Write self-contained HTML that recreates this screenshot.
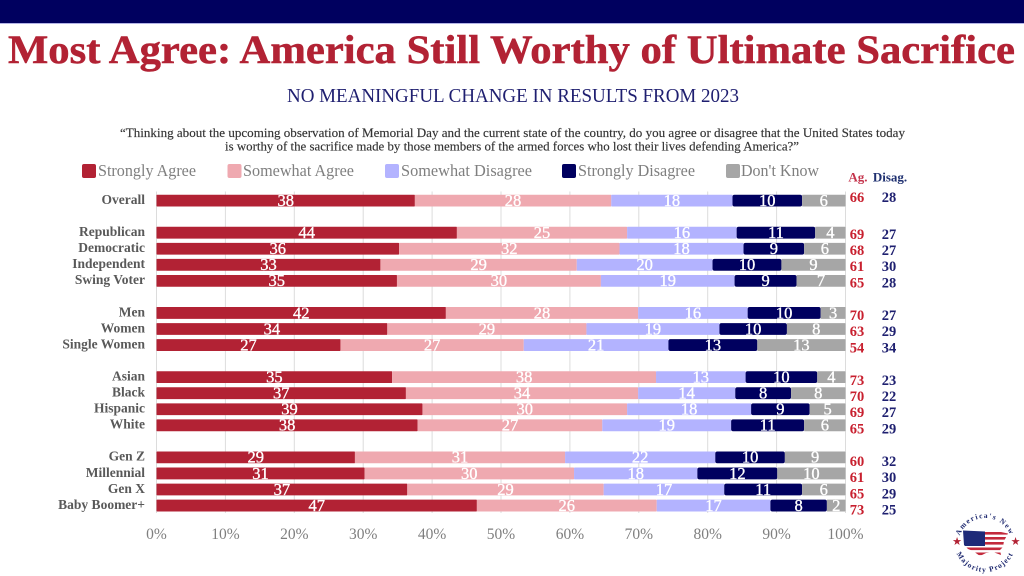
<!DOCTYPE html>
<html lang="en">
<head>
<meta charset="utf-8">
<title>Most Agree: America Still Worthy of Ultimate Sacrifice</title>
<style>
html,body{margin:0;padding:0;background:#fff;}
body{width:1024px;height:576px;overflow:hidden;}
svg{display:block;font-family:"Liberation Serif",serif;}
</style>
</head>
<body>
<svg id="chart" xmlns="http://www.w3.org/2000/svg" width="1024" height="576" viewBox="0 0 1024 576">
  <rect x="0" y="0" width="1024" height="576" fill="#ffffff"/>
  <rect x="0" y="0" width="1024" height="23" fill="#00005f"/>
  <rect x="0" y="23" width="1024" height="1" fill="#b3b3e6"/>
  <text x="8" y="63" font-size="40" font-weight="700" fill="#b22234" stroke="#b22234" stroke-width="0.5" textLength="1007" lengthAdjust="spacingAndGlyphs">Most Agree: America Still Worthy of Ultimate Sacrifice</text>
  <text x="287" y="102" font-size="20.5" fill="#1f1f70" textLength="452" lengthAdjust="spacingAndGlyphs">NO MEANINGFUL CHANGE IN RESULTS FROM 2023</text>
  <text x="120" y="137" font-size="12.5" fill="#333333" stroke="#333333" stroke-width="0.15" textLength="785" lengthAdjust="spacingAndGlyphs">“Thinking about the upcoming observation of Memorial Day and the current state of the country, do you agree or disagree that the United States today</text>
  <text x="225" y="150.5" font-size="12.5" fill="#333333" stroke="#333333" stroke-width="0.15" textLength="574" lengthAdjust="spacingAndGlyphs">is worthy of the sacrifice made by those members of the armed forces who lost their lives defending America?”</text>

  <g>
    <g>
      <rect x="82" y="164" width="14" height="14" rx="2" fill="#b22234"/>
      <text x="98" y="176" font-size="16.5" fill="#7f7f7f" textLength="98" lengthAdjust="spacingAndGlyphs">Strongly Agree</text>
    </g>
    <g>
      <rect x="227.5" y="164" width="14" height="14" rx="2" fill="#efa9b0"/>
      <text x="243" y="176" font-size="16.5" fill="#7f7f7f" textLength="111" lengthAdjust="spacingAndGlyphs">Somewhat Agree</text>
    </g>
    <g>
      <rect x="385" y="164" width="14" height="14" rx="2" fill="#b3b3ff"/>
      <text x="401" y="176" font-size="16.5" fill="#7f7f7f" textLength="131" lengthAdjust="spacingAndGlyphs">Somewhat Disagree</text>
    </g>
    <g>
      <rect x="562" y="164" width="14" height="14" rx="2" fill="#00005f"/>
      <text x="578" y="176" font-size="16.5" fill="#7f7f7f" textLength="117" lengthAdjust="spacingAndGlyphs">Strongly Disagree</text>
    </g>
    <g>
      <rect x="726" y="164" width="14" height="14" rx="2" fill="#a6a6a6"/>
      <text x="741" y="176" font-size="16.5" fill="#7f7f7f" textLength="78" lengthAdjust="spacingAndGlyphs">Don't Know</text>
    </g>
  </g>

  <text x="858" y="181.5" font-size="13" font-weight="700" fill="#c4344c" text-anchor="middle">Ag.</text>
  <text x="890" y="181.5" font-size="13" font-weight="700" fill="#1f3070" text-anchor="middle">Disag.</text>

  <g id="grid"></g>
  <g id="bars"></g>
  <g id="rowlabels"></g>
  <g id="totals"></g>
  <g id="ticks"></g>

  <g>
    <defs>
      <path id="logoTop" d="M958 545 A27 27 0 0 1 1012 545"/>
      <path id="logoBottom" d="M954 541 A31 31 0 0 0 1016 541"/>
      <clipPath id="usaClip">
        <path d="M963 530.5 L985 531.5 L1001 532 L1008 533.5 L1004 541 L1003 547 L1000 550 L1001 555 L993 552 L986 553 L980 556 L973 551 L968 549 L964 545 Z"/>
      </clipPath>
    </defs>
    <g clip-path="url(#usaClip)">
      <rect x="960" y="529" width="50" height="30" fill="#ffffff"/>
      <rect x="985" y="532" width="25" height="2.6" fill="#c32a3c"/>
      <rect x="985" y="537" width="25" height="2.6" fill="#c32a3c"/>
      <rect x="985" y="542" width="25" height="2.6" fill="#c32a3c"/>
      <rect x="960" y="547.5" width="50" height="2.6" fill="#c32a3c"/>
      <rect x="960" y="552.5" width="50" height="2.6" fill="#c32a3c"/>
      <rect x="960" y="529" width="25" height="17" fill="#1e2a78"/>
    </g>
    <text font-size="7.5" font-weight="700" fill="#1f2a70" letter-spacing="1.3"><textPath href="#logoTop" startOffset="50%" text-anchor="middle">America's New</textPath></text>
    <text font-size="7.5" font-weight="700" fill="#1f2a70" letter-spacing="1.1"><textPath href="#logoBottom" startOffset="50%" text-anchor="middle">Majority Project</textPath></text>
    <text x="957" y="545" font-size="11" fill="#b22234" text-anchor="middle">★</text>
    <text x="1015.5" y="545" font-size="11" fill="#b22234" text-anchor="middle">★</text>
  </g>
</svg>

<script>
// Chart data: blank categories are group spacers
const categories = ["Overall","","Republican","Democratic","Independent","Swing Voter","","Men","Women","Single Women","","Asian","Black","Hispanic","White","","Gen Z","Millennial","Gen X","Baby Boomer+"];

const stronglyAgree    = [37.5,null,43.6,35.2,32.5,34.9,null,42.0,33.5,26.7,null,34.2,36.2,38.6,37.9,null,28.8,30.2,36.4,46.5];
const somewhatAgree    = [28.5,null,24.7,32.0,28.5,29.6,null,27.9,28.9,26.6,null,38.3,33.7,29.7,26.8,null,30.5,30.4,28.5,26.1];
const somewhatDisagree = [17.6,null,15.9,18.0,19.7,19.4,null,15.9,19.3,21.0,null,13.0,14.1,18.0,18.7,null,21.8,17.9,17.5,16.5];
const stronglyDisagree = [10.1,null,11.4,8.8,10.0,9.0,null,10.6,9.8,12.9,null,10.4,8.1,8.5,10.6,null,10.1,11.6,11.3,8.2];
const dontKnow         = [6.3,null,4.4,6.0,9.3,7.1,null,3.6,8.5,12.8,null,4.1,7.9,5.2,6.0,null,8.8,9.9,6.3,2.7];

const stronglyAgreeLabels    = [38,null,44,36,33,35,null,42,34,27,null,35,37,39,38,null,29,31,37,47];
const somewhatAgreeLabels    = [28,null,25,32,29,30,null,28,29,27,null,38,34,30,27,null,31,30,29,26];
const somewhatDisagreeLabels = [18,null,16,18,20,19,null,16,19,21,null,13,14,18,19,null,22,18,17,17];
const stronglyDisagreeLabels = [10,null,11,9,10,9,null,10,10,13,null,10,8,9,11,null,10,12,11,8];
const dontKnowLabels         = [6,null,4,6,9,7,null,3,8,13,null,4,8,5,6,null,9,10,6,2];

const agreeTotals    = [66,null,69,68,61,65,null,70,63,54,null,73,70,69,65,null,60,61,65,73];
const disagreeTotals = [28,null,27,27,30,28,null,27,29,34,null,23,22,27,29,null,32,30,29,25];

const axisTicks = [0,10,20,30,40,50,60,70,80,90,100];

const seriesNames = ["strongly-agree","somewhat-agree","somewhat-disagree","strongly-disagree","dont-know"];
const seriesColors = ["#b22234","#efa9b0","#b3b3ff","#00005f","#a6a6a6"];
const seriesValues = [stronglyAgree,somewhatAgree,somewhatDisagree,stronglyDisagree,dontKnow];
const seriesLabels = [stronglyAgreeLabels,somewhatAgreeLabels,somewhatDisagreeLabels,stronglyDisagreeLabels,dontKnowLabels];

const NS = "http://www.w3.org/2000/svg";
function xScale(v){ return 156.5 + v * 6.89; }
function yScale(i){ return 200.6 + i * 16.05; }
function slug(s){ return s.toLowerCase().replace(/[^a-z0-9]+/g,"-").replace(/-$/,""); }
function make(tag, attrs, parent, txt){
  const el = document.createElementNS(NS, tag);
  for (const k in attrs) el.setAttribute(k, attrs[k]);
  if (txt !== undefined) el.textContent = txt;
  parent.appendChild(el);
  return el;
}
const gridG = document.getElementById("grid");
const barsG = document.getElementById("bars");
const rowG = document.getElementById("rowlabels");
const totalsG = document.getElementById("totals");
const ticksG = document.getElementById("ticks");

axisTicks.forEach(function(t){
  const line = make("line",{x1:xScale(t),x2:xScale(t),y1:191.5,y2:513,stroke:"#dcdcdc","stroke-width":1},gridG);
  
  
  const label = make("text",{x:xScale(t),y:539,"font-size":15.5,fill:"#7f7f7f","text-anchor":"middle"},ticksG,t+"%");
  
  
});

categories.forEach(function(cat,i){
  if (!cat) return;
  const cy = yScale(i);
  const name = slug(cat);
  const rowLabel = make("text",{x:145,y:cy+3.3,"font-size":13.5,"font-weight":700,fill:"#595959","text-anchor":"end"},rowG,cat);
  
  
  let cum = 0;
  seriesValues.forEach(function(vals,s){
    const v = vals[i];
    const x1 = xScale(cum);
    const x2 = xScale(cum + v);
    const bar = make("rect",{x:x1,y:cy-5.9,width:x2-x1,height:11.8,fill:seriesColors[s],rx:s===3?2:0.6},barsG);
    
    
    cum += v;
  });
  cum = 0;
  seriesValues.forEach(function(vals,s){
    const v = vals[i];
    const mid = xScale(cum + v / 2);
    const val = make("text",{x:mid,y:cy+5.3,"font-size":16.5,fill:"#ffffff",stroke:"#ffffff","stroke-width":0.35,"text-anchor":"middle"},barsG,seriesLabels[s][i]);
    
    
    cum += v;
  });
  const off = i === 0 ? -3.5 : 1.1 + (i - 2) * 0.17;
  const ag = make("text",{x:857,y:cy+off+5,"font-size":14.5,"font-weight":700,fill:"#c8202f","text-anchor":"middle"},totalsG,agreeTotals[i]);
  
  
  const dis = make("text",{x:889,y:cy+off+5,"font-size":14.5,"font-weight":700,fill:"#1f2070","text-anchor":"middle"},totalsG,disagreeTotals[i]);
  
  
});
</script>
</body>
</html>
